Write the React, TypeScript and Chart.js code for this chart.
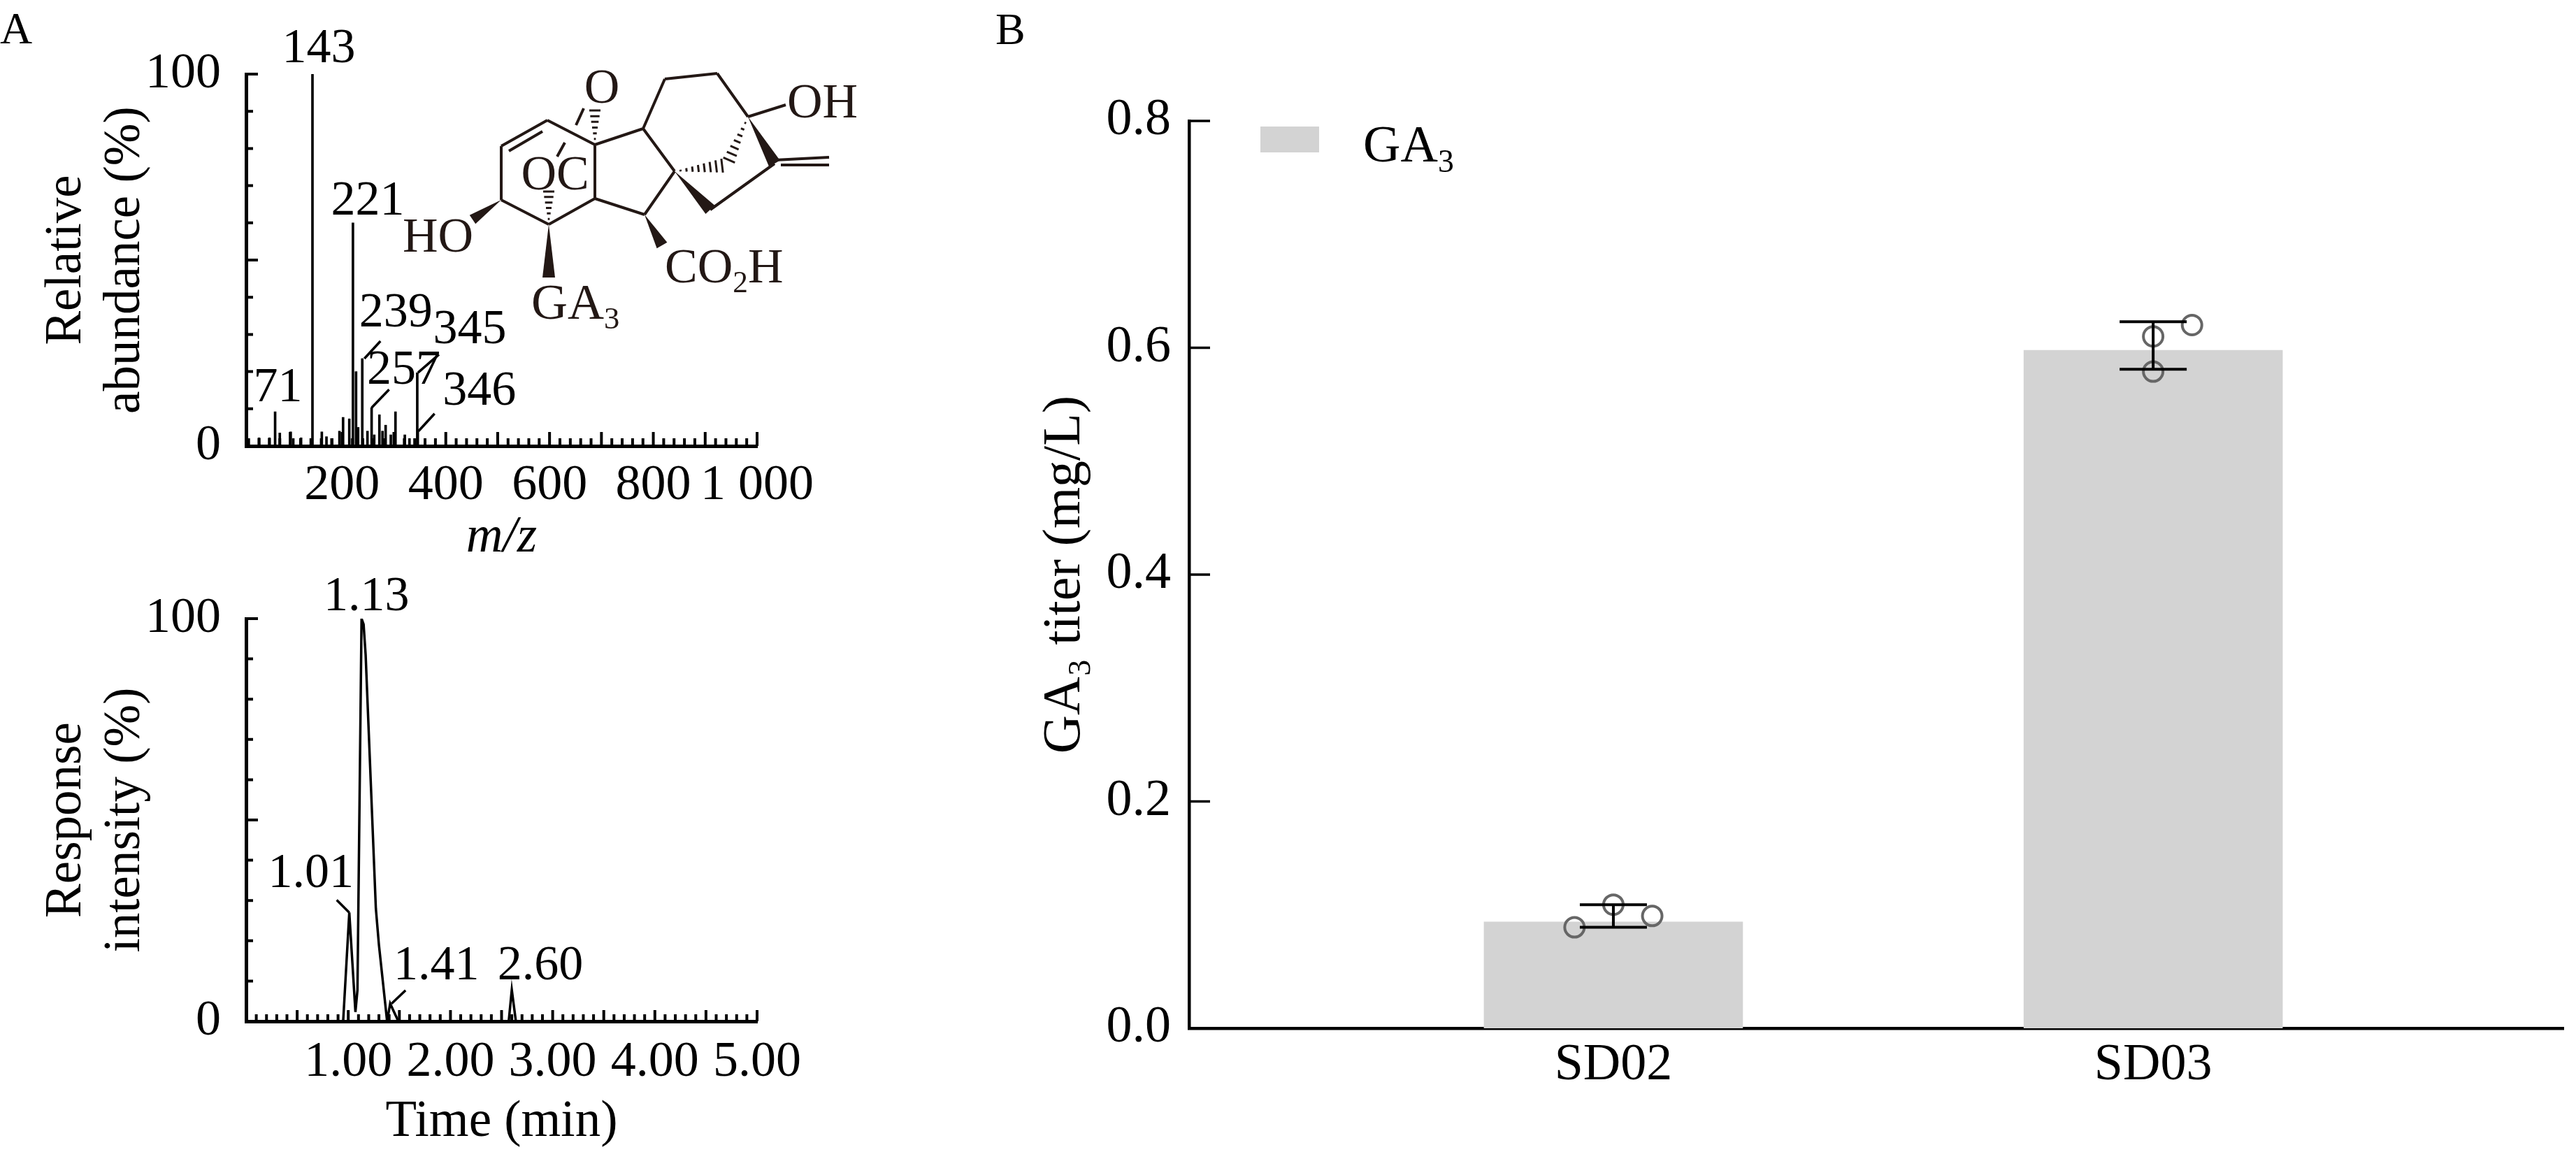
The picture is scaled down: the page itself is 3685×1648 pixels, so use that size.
import React, { useEffect, useRef } from 'react'
import { Chart, registerables } from 'chart.js'

Chart.register(...registerables)

const SERIF = '"Liberation Serif", "Times New Roman", Times, serif'
const INK = '#000'
const BOND = '#231815'

// ---- A (top): mass spectrum, m/z vs relative abundance (%)
const mzValues = [40, 60, 71, 80, 101, 106, 121, 143, 161, 170, 181, 195, 202, 214, 221, 227, 231, 239, 249, 257, 262, 272, 278, 284, 294, 303, 321, 330, 345, 346]
const mzAbundance = [2.2, 2.2, 9.2, 3.5, 3.8, 2, 2.2, 100, 3.8, 2.5, 2, 4, 7.7, 7.3, 60, 20, 5, 23.5, 4, 10.3, 3, 8.4, 4, 5.6, 3, 9.2, 3, 2, 19.7, 4]
const mzLabelled = [71, 143, 221, 239, 257, 345, 346]
const mzTicks = [200, 400, 600, 800, 1000]

// ---- A (bottom): chromatogram, time (min) vs response intensity (%)
const chromTime = [0, 0.95, 1.01, 1.07, 1.09, 1.13, 1.15, 1.17, 1.27, 1.30, 1.38, 1.41, 1.49, 2.57, 2.60, 2.64, 5.0]
const chromIntensity = [0, 0, 27, 2.3, 7.8, 100, 98.6, 91, 28, 19, 0, 4.4, 0, 0, 7.8, 0, 0]
const chromLabelled = [1.01, 1.13, 1.41, 2.60]

// ---- B: GA3 titer
const strains = ['SD02', 'SD03']
const titerBar = [0.094, 0.598]
const titerLow = [0.089, 0.581]
const titerHigh = [0.109, 0.623]
const sd02Reps = [0.089, 0.109, 0.099]
const sd03Reps = [0.620, 0.610, 0.579]
const repJitter = [[-0.072, 0, 0.072], [0.072, 0, 0]]

// label placement (px offsets from the peak top): text centre, optional leader line
type Note = { text: [number, number]; lead?: [number, number, number, number] }
const mzNotes: Record<string, Note> = {
  '71': { text: [4, -33] },
  '143': { text: [9, -35] },
  '221': { text: [21, -30] },
  '239': { lead: [3, 0, 26, -25], text: [48, -64] },
  '257': { lead: [0, 0, 25, -26], text: [46, -53] },
  '345': { lead: [1, 0, 31, -26], text: [75, -61] },
  '346': { lead: [1, 0, 24, -25], text: [88, -56] },
}
const chromNotes: Record<string, Note> = {
  '1.01': { lead: [0, 0, -18, -18], text: [-55, -55] },
  '1.13': { text: [7, -30] },
  '1.41': { lead: [2, 0, 22, -19], text: [66, -53] },
  '2.60': { text: [41, -33] },
}

const thousands = (v: number) =>
  v >= 1000 ? `${Math.floor(v / 1000)} ${String(v % 1000).padStart(3, '0')}` : String(v)

const isMultiple = (v: number, step: number) => {
  const r = v / step
  return Math.abs(r - Math.round(r)) < 1e-6
}

function innerTicks(cfg: {
  x?: { minor: number; major: number; minorLen: number; majorLen: number }
  y?: { minor: number; major: number; minorLen: number; majorLen: number }
  width: number
}) {
  return {
    id: 'innerTicks',
    beforeDatasetsDraw(chart: any) {
      const { ctx, chartArea: a, scales } = chart
      ctx.save()
      ctx.strokeStyle = INK
      ctx.lineWidth = cfg.width
      ctx.beginPath()
      if (cfg.x) {
        const s = scales.x
        const { minor, major, minorLen, majorLen } = cfg.x
        for (let k = Math.ceil(s.min / minor - 1e-9); k * minor <= s.max + 1e-9; k++) {
          const v = k * minor
          const px = s.getPixelForValue(v)
          const len = isMultiple(v, major) ? majorLen : minorLen
          ctx.moveTo(px, a.bottom)
          ctx.lineTo(px, a.bottom - len)
        }
      }
      if (cfg.y) {
        const s = scales.y
        const { minor, major, minorLen, majorLen } = cfg.y
        for (let k = Math.ceil(s.min / minor - 1e-9); k * minor <= s.max + 1e-9; k++) {
          const v = k * minor
          const py = s.getPixelForValue(v)
          const len = isMultiple(v, major) ? majorLen : minorLen
          ctx.moveTo(a.left, py)
          ctx.lineTo(a.left + len, py)
        }
      }
      ctx.stroke()
      ctx.restore()
    },
  }
}

function peakNotes(xs: number[], labelled: number[], notes: Record<string, Note>, fmt: (v: number) => string, size: number) {
  return {
    id: 'peakNotes',
    afterDatasetsDraw(chart: any) {
      const ctx = chart.ctx
      const meta = chart.getDatasetMeta(0)
      ctx.save()
      ctx.fillStyle = INK
      ctx.strokeStyle = INK
      ctx.lineWidth = 3.5
      ctx.font = `${size}px ${SERIF}`
      ctx.textAlign = 'center'
      ctx.textBaseline = 'middle'
      labelled.forEach((v) => {
        const el = meta.data[xs.indexOf(v)]
        const n = notes[fmt(v)]
        if (!el || !n) return
        const { x, y } = el.getProps(['x', 'y'], true)
        if (n.lead) {
          ctx.beginPath()
          ctx.moveTo(x + n.lead[0], y + n.lead[1])
          ctx.lineTo(x + n.lead[2], y + n.lead[3])
          ctx.stroke()
        }
        ctx.fillText(fmt(v), x + n.text[0], y + n.text[1])
      })
      ctx.restore()
    },
  }
}

// text with subscripts: parts are [text, isSubscript]
function drawParts(ctx: CanvasRenderingContext2D, parts: [string, boolean][], x: number, y: number, size: number, align: 'left' | 'right' = 'left') {
  const widths = parts.map(([t, sub]) => {
    ctx.font = `${sub ? size * 0.62 : size}px ${SERIF}`
    return ctx.measureText(t).width
  })
  let cx = align === 'left' ? x : x - widths.reduce((s, w) => s + w, 0)
  ctx.textAlign = 'left'
  ctx.textBaseline = 'alphabetic'
  parts.forEach(([t, sub], i) => {
    ctx.font = `${sub ? size * 0.62 : size}px ${SERIF}`
    ctx.fillText(t, cx, sub ? y + size * 0.2 : y)
    cx += widths[i]
  })
}

function panelLetter(text: string, x: number, y: number) {
  return {
    id: 'panelLetter',
    afterDraw(chart: any) {
      const ctx = chart.ctx
      ctx.save()
      ctx.fillStyle = INK
      ctx.font = `64px ${SERIF}`
      ctx.textAlign = 'left'
      ctx.textBaseline = 'alphabetic'
      ctx.fillText(text, x, y)
      ctx.restore()
    },
  }
}

// GA3 skeletal formula drawn beside the spectrum
const structure = {
  id: 'ga3Structure',
  afterDraw(chart: any) {
    const ctx: CanvasRenderingContext2D = chart.ctx
    type P = [number, number]
    const A: P = [717, 209], B: P = [783, 172], C: P = [851, 207], D: P = [851, 284]
    const E: P = [785, 321], F: P = [717, 286], G: P = [920, 184], H: P = [922, 307]
    const I: P = [965, 245], J: P = [951, 113], K: P = [1026, 105], L: P = [1070, 167]
    const M: P = [1108, 234], N: P = [1016, 300]
    const line = (a: P, b: P) => { ctx.moveTo(a[0], a[1]); ctx.lineTo(b[0], b[1]) }
    const wedge = (a: P, b: P, w: number) => {
      const dx = b[0] - a[0], dy = b[1] - a[1], len = Math.hypot(dx, dy)
      const nx = (-dy / len) * w / 2, ny = (dx / len) * w / 2
      ctx.beginPath()
      ctx.moveTo(a[0], a[1])
      ctx.lineTo(b[0] + nx, b[1] + ny)
      ctx.lineTo(b[0] - nx, b[1] - ny)
      ctx.closePath()
      ctx.fill()
    }
    const hashed = (a: P, b: P, w: number, n: number) => {
      const dx = b[0] - a[0], dy = b[1] - a[1], len = Math.hypot(dx, dy)
      const ux = -dy / len, uy = dx / len
      ctx.beginPath()
      for (let i = 1; i <= n; i++) {
        const t = i / n, cx = a[0] + dx * t, cy = a[1] + dy * t, h = (w / 2) * t
        ctx.moveTo(cx - ux * h, cy - uy * h)
        ctx.lineTo(cx + ux * h, cy + uy * h)
      }
      ctx.lineWidth = 3
      ctx.stroke()
    }
    ctx.save()
    ctx.strokeStyle = BOND
    ctx.fillStyle = BOND
    ctx.lineWidth = 4
    ctx.lineJoin = 'round'
    ctx.beginPath()
    line(A, B); line(B, C); line(C, D); line(D, E); line(E, F); line(F, A)
    line([728, 216], [776, 188])
    line(C, G); line(G, I); line(I, H); line(H, D)
    line(G, J); line(J, K); line(K, L); line(N, M)
    line(L, [1124, 150])
    line([1108, 229], [1186, 225]); line([1117, 236], [1186, 236])
    line([824, 179], [835, 155]); line([797, 224], [808, 204])
    ctx.stroke()
    wedge(F, [676, 314], 15)
    wedge(E, [785, 397], 18)
    wedge(H, [947, 351], 17)
    wedge(L, M, 18)
    wedge(I, N, 18)
    hashed(C, [851, 158], 16, 6)
    hashed(E, [785, 274], 16, 6)
    hashed(I, [1033, 237], 20, 8)
    hashed(L, [1043, 229], 18, 7)
    ctx.font = `70px ${SERIF}`
    ctx.textAlign = 'center'
    ctx.textBaseline = 'alphabetic'
    ctx.fillText('O', 861, 147)
    ctx.fillText('OC', 794, 271)
    drawParts(ctx, [['HO', false]], 677, 360, 70, 'right')
    drawParts(ctx, [['GA', false], ['3', true]], 760, 456, 72)
    drawParts(ctx, [['CO', false], ['2', true], ['H', false]], 951, 404, 70)
    drawParts(ctx, [['OH', false]], 1126, 168, 70)
    ctx.restore()
  },
}

function errorBars() {
  return {
    id: 'errorBars',
    afterDatasetsDraw(chart: any) {
      const { ctx, scales: { x, y } } = chart
      ctx.save()
      ctx.strokeStyle = INK
      ctx.lineWidth = 4
      ctx.beginPath()
      strains.forEach((_, i) => {
        const px = x.getPixelForValue(i + 1)
        const lo = y.getPixelForValue(titerLow[i])
        const hi = y.getPixelForValue(titerHigh[i])
        ctx.moveTo(px, lo); ctx.lineTo(px, hi)
        ctx.moveTo(px - 48, lo); ctx.lineTo(px + 48, lo)
        ctx.moveTo(px - 48, hi); ctx.lineTo(px + 48, hi)
      })
      ctx.stroke()
      ctx.restore()
    },
  }
}

const barLegend = {
  id: 'barLegend',
  afterDraw(chart: any) {
    const { ctx, chartArea: a } = chart
    const ds = chart.data.datasets.find((d: any) => d.type === 'bar')
    ctx.save()
    ctx.fillStyle = ds.backgroundColor
    ctx.fillRect(a.left + 102, a.top + 8, 84, 37)
    ctx.fillStyle = INK
    drawParts(ctx, [['GA', false], ['3', true]], a.left + 249, a.top + 58, 74)
    ctx.restore()
  },
}

const axisBase = (size: number) => ({
  grid: { display: false, drawTicks: false },
  border: { display: true, color: INK, width: 5 },
  ticks: { color: INK, font: { size, family: SERIF }, autoSkip: false, maxRotation: 0 },
})

export default function App() {
  const specRef = useRef<HTMLCanvasElement>(null)
  const chromRef = useRef<HTMLCanvasElement>(null)
  const barRef = useRef<HTMLCanvasElement>(null)

  useEffect(() => {
    if (!specRef.current || !chromRef.current || !barRef.current) return
    Chart.defaults.font.family = SERIF
    Chart.defaults.color = INK

    const spec = new Chart(specRef.current, {
      type: 'bar',
      data: {
        datasets: [{
          data: mzValues.map((m, i) => ({ x: m, y: mzAbundance[i] })),
          backgroundColor: INK,
          barThickness: 3,
        }],
      },
      options: {
        responsive: false,
        animation: false,
        devicePixelRatio: 1,
        events: [],
        layout: { padding: { left: 54, top: 106, right: 317, bottom: 0 } },
        plugins: { legend: { display: false }, tooltip: { enabled: false } },
        scales: {
          x: {
            type: 'linear', min: 15, max: 1000, offset: false,
            ...axisBase(72),
            afterBuildTicks: (s: any) => { s.ticks = mzTicks.map((value) => ({ value })) },
            ticks: { ...axisBase(72).ticks, padding: 14, callback: (v: any) => thousands(Number(v)) },
            title: { display: true, text: 'm/z', color: INK, font: { size: 73, style: 'italic', family: SERIF, lineHeight: 1.15 }, padding: { top: 0, bottom: 8 } },
            afterFit: (s: any) => { s.height = 182; s.paddingLeft = 0; s.paddingRight = 0 },
          },
          y: {
            min: 0, max: 100,
            ...axisBase(72),
            ticks: { ...axisBase(72).ticks, stepSize: 100, padding: 36 },
            title: { display: true, text: ['Relative', 'abundance (%)'], color: INK, font: { size: 73, family: SERIF, lineHeight: 1.15 }, padding: 0 },
            afterFit: (s: any) => { s.width = 298; s.paddingTop = 0; s.paddingBottom = 0 },
          },
        },
      } as any,
      plugins: [
        innerTicks({
          x: { minor: 20, major: 100, minorLen: 11, majorLen: 20 },
          y: { minor: 10, major: 50, minorLen: 10, majorLen: 17 },
          width: 4,
        }),
        peakNotes(mzValues, mzLabelled, mzNotes, (v) => String(v), 70),
        structure,
        panelLetter('A', 0, 62),
      ],
    })

    const chrom = new Chart(chromRef.current, {
      type: 'line',
      data: {
        datasets: [{
          data: chromTime.map((t, i) => ({ x: t, y: chromIntensity[i] })),
          borderColor: INK,
          borderWidth: 3.5,
          pointRadius: 0,
          tension: 0,
          fill: false,
        }],
      },
      options: {
        responsive: false,
        animation: false,
        devicePixelRatio: 1,
        events: [],
        layout: { padding: { left: 54, top: 65, right: 317, bottom: 0 } },
        plugins: { legend: { display: false }, tooltip: { enabled: false } },
        scales: {
          x: {
            type: 'linear', min: 0, max: 5, offset: false,
            ...axisBase(72),
            ticks: { ...axisBase(72).ticks, stepSize: 1, padding: 16, callback: (v: any) => (v > 0 ? Number(v).toFixed(2) : '') },
            title: { display: true, text: 'Time (min)', color: INK, font: { size: 73, family: SERIF, lineHeight: 1.15 }, padding: { top: 0, bottom: 0 } },
            afterFit: (s: any) => { s.height = 187; s.paddingLeft = 0; s.paddingRight = 0 },
          },
          y: {
            type: 'linear', min: 0, max: 100,
            ...axisBase(72),
            ticks: { ...axisBase(72).ticks, stepSize: 100, padding: 36 },
            title: { display: true, text: ['Response', 'intensity (%)'], color: INK, font: { size: 73, family: SERIF, lineHeight: 1.15 }, padding: 0 },
            afterFit: (s: any) => { s.width = 298; s.paddingTop = 0; s.paddingBottom = 0 },
          },
        },
      } as any,
      plugins: [
        innerTicks({
          x: { minor: 0.1, major: 0.5, minorLen: 10, majorLen: 16 },
          y: { minor: 10, major: 50, minorLen: 10, majorLen: 17 },
          width: 4,
        }),
        peakNotes(chromTime, chromLabelled, chromNotes, (v) => v.toFixed(2), 70),
      ],
    })

    const reps = [sd02Reps, sd03Reps]
    const bars = new Chart(barRef.current, {
      type: 'bar',
      data: {
        datasets: [
          {
            type: 'scatter',
            data: strains.flatMap((_, i) => reps[i].map((v, j) => ({ x: i + 1 + repJitter[i][j], y: v }))),
            pointRadius: 14,
            borderWidth: 4,
            borderColor: '#666666',
            backgroundColor: 'rgba(0,0,0,0)',
            order: 0,
          },
          {
            type: 'bar',
            label: 'GA3',
            data: strains.map((_, i) => ({ x: i + 1, y: titerBar[i] })),
            backgroundColor: '#d3d3d3',
            barPercentage: 0.48,
            categoryPercentage: 1,
            order: 1,
          },
        ],
      },
      options: {
        responsive: false,
        animation: false,
        devicePixelRatio: 1,
        events: [],
        layout: { padding: { left: 78, top: 173, right: 0, bottom: 0 } },
        plugins: { legend: { display: false }, tooltip: { enabled: false } },
        scales: {
          x: {
            type: 'linear', min: 0.214, max: 2.76, offset: false,
            ...axisBase(74),
            border: { display: true, color: INK, width: 4.5 },
            afterBuildTicks: (s: any) => { s.ticks = strains.map((_, i) => ({ value: i + 1 })) },
            ticks: { ...axisBase(74).ticks, padding: 9, callback: (_v: any, i: number) => strains[i] ?? '' },
            afterFit: (s: any) => { s.height = 177; s.paddingLeft = 0; s.paddingRight = 0 },
          },
          y: {
            min: 0, max: 0.8,
            ...axisBase(74),
            border: { display: true, color: INK, width: 4.5 },
            ticks: { ...axisBase(74).ticks, stepSize: 0.2, padding: 26, callback: (v: any) => Number(v).toFixed(1) },
            title: { display: true, text: 'GA\u2083 titer (mg/L)', color: INK, font: { size: 76, family: SERIF }, padding: 0 },
            afterFit: (s: any) => { s.width = 223; s.paddingTop = 0; s.paddingBottom = 0 },
          },
        },
      } as any,
      plugins: [
        innerTicks({ y: { minor: 0.2, major: 0.2, minorLen: 30, majorLen: 30 }, width: 3.5 }),
        errorBars(),
        barLegend,
        panelLetter('B', 24, 63),
      ],
    })

    return () => { spec.destroy(); chrom.destroy(); bars.destroy() }
  }, [])

  const abs = (left: number, top: number, w: number, h: number): React.CSSProperties => ({
    position: 'absolute', left, top, width: w, height: h,
  })

  return (
    <div style={{ position: 'fixed', left: 0, top: 0, width: 3685, height: 1648, background: '#fff', overflow: 'hidden' }}>
      <canvas ref={specRef} width={1400} height={820} style={abs(0, 0, 1400, 820)} />
      <canvas ref={chromRef} width={1400} height={828} style={abs(0, 820, 1400, 828)} />
      <canvas ref={barRef} width={2285} height={1648} style={abs(1400, 0, 2285, 1648)} />
    </div>
  )
}
